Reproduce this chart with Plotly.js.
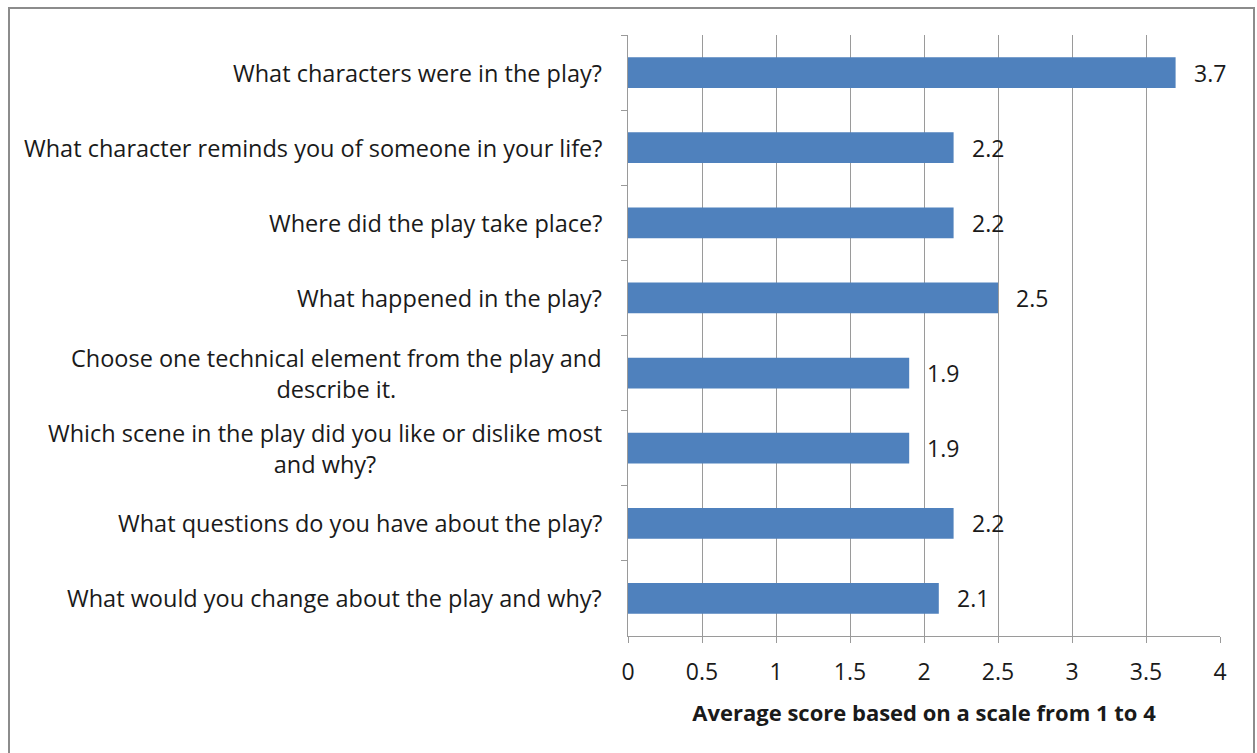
<!DOCTYPE html>
<html>
<head>
<meta charset="utf-8">
<script src="https://cdn.plot.ly/plotly-3.0.1.min.js"></script>
<style>
  html, body { margin: 0; padding: 0; background: #fff; }
  #wrap { position: relative; width: 1257px; height: 753px; }
  #chart { position: absolute; left: 0; top: 0; width: 1257px; height: 753px; }
  #frame { position: absolute; left: 8px; top: 7px; width: 1247px; height: 760px;
           border: 2px solid #8c8c8c; pointer-events: none; box-sizing: border-box; }
</style>
</head>
<body>
<div id="wrap">
  <div id="chart"></div>
  <div id="frame"></div>
</div>
<script>
const categories = [
  "What characters were in the play?",
  "What character reminds you of someone in your life?",
  "Where did the play take place?",
  "What happened in the play?",
  "Choose one technical element from the play and<br>describe it.",
  "Which scene in the play did you like or dislike most<br>and why?",
  "What questions do you have about the play?",
  "What would you change about the play and why?"
];
const scores = [3.7, 2.2, 2.2, 2.5, 1.9, 1.9, 2.2, 2.1];
const xTicks = [0, 0.5, 1, 1.5, 2, 2.5, 3, 3.5, 4];
const xTickLabels = ["0", "0.5", "1", "1.5", "2", "2.5", "3", "3.5", "4"];
const xTitle = "Average score based on a scale from 1 to 4";

const FONT = "Open Sans, Noto Sans, sans-serif";
const TXT = "#1a1a1a";

const trace = {
  type: "bar",
  orientation: "h",
  x: scores,
  y: categories,
  marker: { color: "#4F81BD", line: { color: "#4F81BD", width: 0 } },
  hoverinfo: "x+y"
};

const annotations = [];
categories.forEach((c, i) => {
  annotations.push({
    xref: "paper", yref: "y", x: 0, y: c, xanchor: "right", yanchor: "middle",
    xshift: -24, text: c, showarrow: false, align: "center",
    font: { family: FONT, size: 23.5, color: TXT }
  });
  annotations.push({
    xref: "x", yref: "y", x: scores[i], y: c, xanchor: "left", yanchor: "middle",
    xshift: 16, text: String(scores[i]), showarrow: false,
    font: { family: FONT, size: 23, color: TXT }
  });
});

const layout = {
  width: 1257, height: 753,
  margin: { l: 628, r: 37, t: 35, b: 117 },
  paper_bgcolor: "rgba(0,0,0,0)",
  plot_bgcolor: "#fff",
  showlegend: false,
  bargap: 0.59,
  xaxis: {
    range: [0, 4],
    tickvals: xTicks, ticktext: xTickLabels,
    showgrid: true, gridcolor: "#9a9a9a", gridwidth: 1,
    zeroline: false,
    showline: true, linecolor: "#9a9a9a", linewidth: 1,
    ticks: "outside", ticklen: 6, tickcolor: "#9a9a9a",
    ticklabelstandoff: 9,
    tickfont: { family: FONT, size: 23, color: TXT },
    title: { text: "<b>" + xTitle + "</b>", font: { family: FONT, size: 22, color: TXT }, standoff: 20 },
    fixedrange: true
  },
  yaxis: {
    type: "category",
    autorange: "reversed",
    showticklabels: false,
    showgrid: false, zeroline: false,
    showline: true, linecolor: "#9a9a9a", linewidth: 1,
    ticks: "outside", ticklen: 6, tickcolor: "#9a9a9a",
    tickson: "boundaries",
    fixedrange: true
  },
  annotations: annotations
};

Plotly.newPlot("chart", [trace], layout, { displayModeBar: false, staticPlot: true });
</script>
</body>
</html>
